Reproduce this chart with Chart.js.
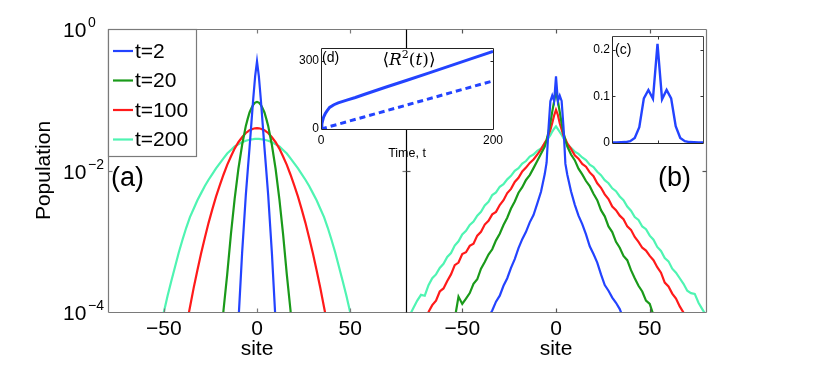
<!DOCTYPE html>
<html>
<head>
<meta charset="utf-8">
<script src="https://cdn.jsdelivr.net/npm/chart.js@4.4.1/dist/chart.umd.min.js"></script>
<style>
  body { margin: 0; background: #fff; }
  #wrap { position: relative; width: 830px; height: 390px; }
  #wrap canvas { position: absolute; left: 0; top: 0; }
</style>
</head>
<body>
<div id="wrap">
  <canvas id="panelA" width="830" height="390"></canvas>
  <canvas id="panelB" width="830" height="390"></canvas>
  <canvas id="insetD" width="830" height="390"></canvas>
  <canvas id="insetC" width="830" height="390"></canvas>
</div>
<script>
// ---- data ----
const seriesLabels = ['t=2', 't=20', 't=100', 't=200'];
const xTicks = [-50, 0, 50];
const yTicks = [1, 1e-2, 1e-4];
const yTickExp = ['0', '\u22122', '\u22124'];

// panel (a)
const siteA = [-54,-52,-50,-48,-46,-44,-42,-40,-38,-36,-34,-32,-30,-28,-26,-24,-22,-20,-18,-16,-14,-12,-10,-8,-6,
  -5,-4,-3,-2,-1,0,1,2,3,4,5,
  6,8,10,12,14,16,18,20,22,24,26,28,30,32,34,36,38,40,42,44,46,48,50,52,54];
const popA_t2 = [null,null,null,null,null,null,null,null,null,null,null,null,null,null,null,null,null,null,null,null,null,null,7.1e-5,6.8e-4,4.5e-3,
  9.8e-3,2.1e-2,4.7e-2,0.105,0.214,0.349,0.214,0.105,4.7e-2,2.1e-2,9.8e-3,
  4.5e-3,6.8e-4,7.1e-5,null,null,null,null,null,null,null,null,null,null,null,null,null,null,null,null,null,null,null,null,null,null];
const popA_t20 = [null,null,null,null,null,null,null,null,null,null,null,null,null,null,null,null,null,2.5e-5,1.05e-4,3.4e-4,1.26e-3,3.98e-3,1.05e-2,2.29e-2,4.27e-2,
  5.37e-2,6.61e-2,7.59e-2,8.51e-2,9.12e-2,9.33e-2,9.12e-2,8.51e-2,7.59e-2,6.61e-2,5.37e-2,
  4.27e-2,2.29e-2,1.05e-2,3.98e-3,1.26e-3,3.4e-4,1.05e-4,2.5e-5,null,null,null,null,null,null,null,null,null,null,null,null,null,null,null,null,null];
const popA_t100 = [null,null,null,null,null,null,null,3.2e-5,6.2e-5,1.17e-4,2.19e-4,3.89e-4,6.76e-4,1.12e-3,1.82e-3,2.82e-3,4.27e-3,6.17e-3,8.71e-3,1.2e-2,1.58e-2,2.04e-2,2.51e-2,2.95e-2,3.39e-2,
  3.55e-2,3.72e-2,3.8e-2,3.89e-2,3.95e-2,3.98e-2,3.95e-2,3.89e-2,3.8e-2,3.72e-2,3.55e-2,
  3.39e-2,2.95e-2,2.51e-2,2.04e-2,1.58e-2,1.2e-2,8.71e-3,6.17e-3,4.27e-3,2.82e-3,1.82e-3,1.12e-3,6.76e-4,3.89e-4,2.19e-4,1.17e-4,6.2e-5,3.2e-5,null,null,null,null,null,null,null];
const popA_t200 = [3.0e-5,5.6e-5,1.0e-4,1.7e-4,2.75e-4,4.37e-4,6.92e-4,1.05e-3,1.55e-3,2.19e-3,2.88e-3,3.8e-3,4.79e-3,6.03e-3,7.41e-3,8.91e-3,1.07e-2,1.26e-2,1.48e-2,1.74e-2,1.95e-2,2.19e-2,2.34e-2,2.51e-2,2.63e-2,
  2.68e-2,2.72e-2,2.76e-2,2.77e-2,2.79e-2,2.79e-2,2.79e-2,2.77e-2,2.76e-2,2.72e-2,2.68e-2,
  2.63e-2,2.51e-2,2.34e-2,2.19e-2,1.95e-2,1.74e-2,1.48e-2,1.26e-2,1.07e-2,8.91e-3,7.41e-3,6.03e-3,4.79e-3,3.8e-3,2.88e-3,2.19e-3,1.55e-3,1.05e-3,6.92e-4,4.37e-4,2.75e-4,1.7e-4,1.0e-4,5.6e-5,3.0e-5];

// panel (b)
const siteB = [-80,-78,-76,-74,-72,-70,-68,-66,-64,-62,-60,-58,-56,-54,-52,-50,-48,-46,-44,-42,-40,-38,-36,-34,-32,-30,-28,-26,-24,-22,-20,-18,-16,-14,-12,-10,-8,-6,
  -5,-4,-3,-2,-1,0,1,2,3,4,5,
  6,8,10,12,14,16,18,20,22,24,26,28,30,32,34,36,38,40,42,44,46,48,50,52,54,56,58,60,62,64,66,68,70,72,74,76,78,80];
const popB_t2 = [null,null,null,null,null,null,null,null,null,null,null,null,null,null,null,null,null,null,null,null,null,null,8.5e-5,1.05e-4,1.4e-4,1.7e-4,2.35e-4,3.0e-4,4.2e-4,5.6e-4,8.0e-4,1.07e-3,1.36e-3,1.85e-3,2.35e-3,3.4e-3,5.0e-3,8.9e-3,
  1.3e-2,3.9e-2,9.5e-2,0.115,0.096,0.214,0.095,0.114,0.096,4.1e-2,1.25e-2,
  8.8e-3,5.1e-3,3.3e-3,2.3e-3,1.75e-3,1.25e-3,8.5e-4,6.6e-4,5.0e-4,3.4e-4,2.4e-4,2.0e-4,1.6e-4,1.35e-4,1.1e-4,8.0e-5,null,null,null,null,null,null,null,null,null,null,null,null,null,null,null,null,null,null,null,null,null,null];
const popB_t20 = [null,null,null,null,null,null,null,null,null,null,null,null,null,8.0e-5,1.65e-4,1.3e-4,1.55e-4,1.85e-4,2.5e-4,2.9e-4,4.1e-4,5.1e-4,6.5e-4,7.7e-4,1.03e-3,1.28e-3,1.7e-3,2.15e-3,2.9e-3,3.65e-3,4.85e-3,5.8e-3,7.35e-3,8.6e-3,1.08e-2,1.36e-2,1.72e-2,2.17e-2,
  2.7e-2,3.5e-2,4.7e-2,6.8e-2,9.5e-2,0.132,9.6e-2,6.7e-2,4.65e-2,3.45e-2,2.68e-2,
  2.2e-2,1.68e-2,1.4e-2,1.06e-2,8.8e-3,7.1e-3,6.0e-3,4.7e-3,3.8e-3,2.75e-3,2.25e-3,1.62e-3,1.35e-3,9.8e-4,8.1e-4,6.2e-4,5.4e-4,3.9e-4,3.0e-4,2.35e-4,1.95e-4,1.45e-4,1.3e-4,9.0e-5,null,null,null,null,null,null,null,null,null,null,null,null,null,null];
const popB_t100 = [null,null,null,null,null,8.3e-5,1.0e-4,1.25e-4,1.45e-4,1.95e-4,2.15e-4,2.75e-4,3.4e-4,4.6e-4,5.0e-4,6.6e-4,7.0e-4,8.6e-4,9.2e-4,1.2e-3,1.36e-3,1.72e-3,1.95e-3,2.4e-3,2.6e-3,3.25e-3,3.8e-3,4.8e-3,5.5e-3,6.9e-3,7.9e-3,9.7e-3,1.1e-2,1.28e-2,1.43e-2,1.68e-2,1.98e-2,2.47e-2,
  2.72e-2,3.2e-2,3.75e-2,4.7e-2,6.0e-2,7.2e-2,6.1e-2,4.65e-2,3.8e-2,3.1e-2,2.78e-2,
  2.42e-2,2.02e-2,1.64e-2,1.47e-2,1.24e-2,1.13e-2,9.4e-3,8.3e-3,6.6e-3,5.7e-3,4.6e-3,3.95e-3,3.1e-3,2.75e-3,2.3e-3,2.05e-3,1.62e-3,1.45e-3,1.15e-3,9.8e-4,8.1e-4,7.4e-4,6.2e-4,5.4e-4,4.3e-4,3.6e-4,2.6e-4,2.3e-4,1.82e-4,1.55e-4,1.2e-4,9.8e-5,8.0e-5,null,null,null,null,null];
const popB_t200 = [7.0e-5,9.0e-5,1.15e-4,1.45e-4,1.75e-4,1.7e-4,2.4e-4,3.0e-4,3.4e-4,4.2e-4,4.8e-4,6.0e-4,6.8e-4,8.7e-4,1.0e-3,1.25e-3,1.4e-3,1.7e-3,1.9e-3,2.3e-3,2.6e-3,3.2e-3,3.6e-3,4.5e-3,4.9e-3,5.9e-3,6.4e-3,7.5e-3,8.4e-3,9.9e-3,1.08e-2,1.25e-2,1.36e-2,1.57e-2,1.68e-2,1.9e-2,2.05e-2,2.42e-2,
  2.6e-2,2.9e-2,3.15e-2,3.55e-2,3.9e-2,4.2e-2,3.85e-2,3.5e-2,3.2e-2,2.85e-2,2.65e-2,
  2.35e-2,2.1e-2,1.85e-2,1.72e-2,1.53e-2,1.4e-2,1.21e-2,1.12e-2,9.6e-3,8.6e-3,7.3e-3,6.6e-3,5.6e-3,5.1e-3,4.3e-3,3.8e-3,3.1e-3,2.7e-3,2.2e-3,2.0e-3,1.62e-3,1.48e-3,1.2e-3,1.05e-3,8.3e-4,7.3e-4,5.8e-4,5.2e-4,4.1e-4,3.6e-4,3.0e-4,2.5e-4,2.0e-4,1.85e-4,1.8e-4,1.35e-4,1.1e-4,9.0e-5];

// inset (d): mean squared displacement
const timeD = [0,1,2,3,5,7,10,15,20,30,40,50,75,100,125,150,175,200];
const r2Solid = [0,22,38,52,68,80,95,107,115,127,139,152,184,215,246,278,310,342];
const timeDash = [0,50,100,150,200];
const r2Dashed = [0,53,106,159,212];
const dTicksX = [0, 200];
const dTicksY = [0, 300];

// inset (c): linear profile, t=2
const siteC = [-10,-9,-8,-7,-6,-5,-4,-3,-2,-1,0,1,2,3,4,5,6,7,8,9,10];
const popC = [0.001,0.001,0.0015,0.002,0.004,0.011,0.034,0.096,0.114,0.095,0.213,0.094,0.114,0.096,0.036,0.011,0.004,0.002,0.0015,0.001,0.001];
const cTicksY = [0, 0.1, 0.2];

const colors = ['#2343ff', '#1a9a1a', '#ff1a1a', '#4ff4b2'];
const FONT = '"Liberation Sans", Arial, Helvetica, sans-serif';
const SERIF = '"DejaVu Serif", "Liberation Serif", serif';

const pts = (xs, ys) => xs.map((x, i) => ({ x: x, y: ys[i] }));
const minus = v => (v < 0 ? '\u2212' + (-v) : String(v));

// box + inward ticks drawn by hand (matlab style)
function frame(cfg) {
  return {
    id: 'frame',
    beforeDatasetsDraw(chart) {
      if (!cfg.fill) return;
      const a = chart.chartArea, ctx = chart.ctx;
      ctx.save();
      ctx.fillStyle = cfg.fill;
      ctx.fillRect(a.left, a.top, a.right - a.left, a.bottom - a.top);
      ctx.restore();
    },
    afterDatasetsDraw(chart) {
      const a = chart.chartArea, ctx = chart.ctx;
      const sx = chart.scales.x, sy = chart.scales.y;
      const L = Math.round(a.left) + 0.5, R = Math.round(a.right) + 0.5;
      const T = Math.round(a.top) + 0.5, B = Math.round(a.bottom) + 0.5;
      ctx.save();
      ctx.lineWidth = cfg.lw || 1;
      const seg = (c, x1, y1, x2, y2) => {
        if (!c) return;
        ctx.strokeStyle = c;
        ctx.beginPath(); ctx.moveTo(x1, y1); ctx.lineTo(x2, y2); ctx.stroke();
      };
      seg(cfg.top, L, T, R, T);
      seg(cfg.bottom, L, B, R, B);
      seg(cfg.left, L, T, L, B);
      seg(cfg.right, R, T, R, B);
      const t = cfg.tickLen;
      (cfg.xt || []).forEach(v => {
        const x = Math.round(sx.getPixelForValue(v)) + 0.5;
        seg(cfg.tickColor, x, T, x, T + t);
        seg(cfg.tickColor, x, B, x, B - t);
      });
      (cfg.yt || []).forEach(v => {
        const y = Math.round(sy.getPixelForValue(v)) + 0.5;
        seg(cfg.tickColor, L, y, L + t, y);
        seg(cfg.tickColor, R, y, R - t, y);
      });
      ctx.restore();
      if (cfg.extra) cfg.extra(chart);
    }
  };
}

function baseOptions(padding) {
  return {
    responsive: false,
    animation: false,
    devicePixelRatio: 1,
    layout: { padding: padding },
    plugins: { legend: { display: false }, tooltip: { enabled: false } },
    elements: { point: { radius: 0 }, line: { tension: 0 } }
  };
}

function siteAxis(fixHeight) {
  return {
    type: 'linear', min: -80, max: 80,
    afterBuildTicks: s => { s.ticks = xTicks.map(v => ({ value: v })); },
    afterFit: s => { s.height = fixHeight; },
    grid: { display: false, drawTicks: false },
    border: { display: false },
    ticks: { font: { family: FONT, size: 21 }, color: '#000', padding: 5, maxRotation: 0, autoSkip: false, callback: v => minus(v) },
    title: { display: true, text: 'site', font: { family: FONT, size: 21 }, color: '#000', padding: { top: 0, bottom: 28 } }
  };
}

function lineSet(xs, ys, color, w) {
  return { data: pts(xs, ys), borderColor: color, borderWidth: w, spanGaps: false, fill: false };
}

// ---- panel (a) ----
const optA = baseOptions({ left: 0, top: 29, right: 424, bottom: 0 });
optA.scales = {
  x: siteAxis(78),
  y: {
    type: 'logarithmic', min: 1e-4, max: 1,
    afterBuildTicks: s => { s.ticks = yTicks.map(v => ({ value: v })); },
    afterFit: s => { s.width = 108; },
    grid: { display: false, drawTicks: false },
    border: { display: false },
    ticks: { display: false },
    title: { display: true, text: 'Population', font: { family: FONT, size: 21 }, color: '#000', padding: { top: 31.5, bottom: 0 } }
  }
};

function drawPanelA(chart) {
  const ctx = chart.ctx, sy = chart.scales.y;
  ctx.save();
  ctx.fillStyle = '#000';
  ctx.textAlign = 'left';
  ctx.textBaseline = 'alphabetic';
  yTicks.forEach((v, i) => {
    const y = sy.getPixelForValue(v);
    ctx.font = '21px ' + FONT;
    ctx.fillText('10', 63, y + 8);
    ctx.font = '14px ' + FONT;
    ctx.fillText(yTickExp[i], 88, y - 2);
  });
  // legend
  ctx.fillStyle = '#fff';
  ctx.fillRect(108.5, 29.5, 88, 127);
  ctx.strokeStyle = '#7a7a7a';
  ctx.lineWidth = 1.2;
  ctx.strokeRect(108.5, 29.5, 88, 127);
  const rows = [51, 80.5, 110, 139.5];
  ctx.font = '21px ' + FONT;
  ctx.textBaseline = 'middle';
  seriesLabels.forEach((lab, i) => {
    ctx.strokeStyle = colors[i];
    ctx.lineWidth = 2.2;
    ctx.beginPath(); ctx.moveTo(113, rows[i]); ctx.lineTo(133, rows[i]); ctx.stroke();
    ctx.fillStyle = '#000';
    ctx.fillText(lab, 135, rows[i] + 1);
  });
  ctx.font = '27px ' + FONT;
  ctx.textBaseline = 'alphabetic';
  ctx.fillText('(a)', 111, 186);
  ctx.restore();
}

new Chart(document.getElementById('panelA'), {
  type: 'line',
  data: {
    datasets: [
      lineSet(siteA, popA_t2, colors[0], 2.2),
      lineSet(siteA, popA_t20, colors[1], 2.2),
      lineSet(siteA, popA_t100, colors[2], 2.2),
      lineSet(siteA, popA_t200, colors[3], 2.2)
    ]
  },
  options: optA,
  plugins: [frame({ top: '#7a7a7a', bottom: '#7a7a7a', left: '#7a7a7a', right: null, lw: 1.2,
    tickLen: 4, tickColor: '#7a7a7a', xt: xTicks, yt: [1e-2], extra: drawPanelA })]
});

// ---- panel (b) ----
const optB = baseOptions({ left: 0, top: 29, right: 124, bottom: 0 });
optB.scales = {
  x: siteAxis(78),
  y: {
    type: 'logarithmic', min: 1e-4, max: 1,
    afterBuildTicks: s => { s.ticks = yTicks.map(v => ({ value: v })); },
    afterFit: s => { s.width = 406; },
    grid: { display: false, drawTicks: false },
    border: { display: false },
    ticks: { display: false }
  }
};

new Chart(document.getElementById('panelB'), {
  type: 'line',
  data: {
    datasets: [
      lineSet(siteB, popB_t2, colors[0], 2.2),
      lineSet(siteB, popB_t20, colors[1], 2.2),
      lineSet(siteB, popB_t100, colors[2], 2.2),
      lineSet(siteB, popB_t200, colors[3], 2.2)
    ]
  },
  options: optB,
  plugins: [frame({ top: '#7a7a7a', bottom: '#7a7a7a', left: '#000', right: '#7a7a7a', lw: 1.2,
    tickLen: 4, tickColor: '#555', xt: xTicks, yt: [1e-2],
    extra: chart => {
      const ctx = chart.ctx;
      ctx.save();
      ctx.fillStyle = '#000';
      ctx.font = '27px ' + FONT;
      ctx.fillText('(b)', 658, 186);
      ctx.restore();
    } })]
});

// ---- inset (d) ----
const optD = baseOptions({ left: 0, top: 48, right: 337, bottom: 0 });
optD.scales = {
  x: {
    type: 'linear', min: 0, max: 200,
    afterBuildTicks: s => { s.ticks = dTicksX.map(v => ({ value: v })); },
    afterFit: s => { s.height = 261; },
    grid: { display: false, drawTicks: false },
    border: { display: false },
    ticks: { font: { family: FONT, size: 12 }, color: '#000', padding: 4, maxRotation: 0, autoSkip: false },
    title: { display: true, text: 'Time, t', font: { family: FONT, size: 12.5 }, color: '#000', padding: { top: 0, bottom: 229 } }
  },
  y: {
    type: 'linear', min: 0, max: 357,
    afterBuildTicks: s => { s.ticks = dTicksY.map(v => ({ value: v })); },
    afterFit: s => { s.width = 321; },
    grid: { display: false, drawTicks: false },
    border: { display: false },
    ticks: { font: { family: FONT, size: 12 }, color: '#000', padding: 2 }
  }
};

function drawInsetD(chart) {
  const ctx = chart.ctx;
  ctx.save();
  ctx.fillStyle = '#000';
  ctx.textBaseline = 'alphabetic';
  ctx.font = '14px ' + FONT;
  ctx.fillText('(d)', 322, 62);
  // <R^2(t)>
  const parts = [
    ['\u27E8', '17px ' + SERIF, 0],
    ['R', 'italic 17px ' + SERIF, 0],
    ['2', '11px ' + SERIF, -7],
    ['(', '17px ' + SERIF, 0],
    ['t', 'italic 17px ' + SERIF, 0],
    [')', '17px ' + SERIF, 0],
    ['\u27E9', '17px ' + SERIF, 0]
  ];
  let w = 0;
  parts.forEach(p => { ctx.font = p[1]; w += ctx.measureText(p[0]).width; });
  let x = 409 - w / 2;
  parts.forEach(p => { ctx.font = p[1]; ctx.fillText(p[0], x, 65 + p[2]); x += ctx.measureText(p[0]).width; });
  ctx.restore();
}

new Chart(document.getElementById('insetD'), {
  type: 'line',
  data: {
    datasets: [
      { data: pts(timeD, r2Solid), borderColor: colors[0], borderWidth: 3, fill: false },
      { data: pts(timeDash, r2Dashed), borderColor: colors[0], borderWidth: 3, borderDash: [6, 4], fill: false }
    ]
  },
  options: optD,
  plugins: [frame({ fill: '#fff', top: '#222', bottom: '#222', left: '#222', right: '#222', lw: 1,
    tickLen: 3, tickColor: '#222', xt: [], yt: [300], extra: drawInsetD })]
});

// ---- inset (c) ----
const optC = baseOptions({ left: 0, top: 36, right: 127, bottom: 0 });
optC.scales = {
  x: {
    type: 'linear', min: -10, max: 10,
    afterFit: s => { s.height = 247; },
    grid: { display: false, drawTicks: false },
    border: { display: false },
    ticks: { display: false }
  },
  y: {
    type: 'linear', min: 0, max: 0.23,
    afterBuildTicks: s => { s.ticks = cTicksY.map(v => ({ value: v })); },
    afterFit: s => { s.width = 612; },
    grid: { display: false, drawTicks: false },
    border: { display: false },
    ticks: { font: { family: FONT, size: 12 }, color: '#000', padding: 2, callback: v => String(v) }
  }
};

new Chart(document.getElementById('insetC'), {
  type: 'line',
  data: { datasets: [{ data: pts(siteC, popC), borderColor: colors[0], borderWidth: 2.4, fill: false }] },
  options: optC,
  plugins: [frame({ fill: '#fff', top: '#444', bottom: '#222', left: '#222', right: '#444', lw: 1,
    tickLen: 3, tickColor: '#333', xt: [0], yt: [0.1, 0.2],
    extra: chart => {
      const ctx = chart.ctx;
      ctx.save();
      ctx.fillStyle = '#000';
      ctx.font = '14px ' + FONT;
      ctx.fillText('(c)', 615, 54);
      ctx.restore();
    } })]
});
</script>
</body>
</html>
